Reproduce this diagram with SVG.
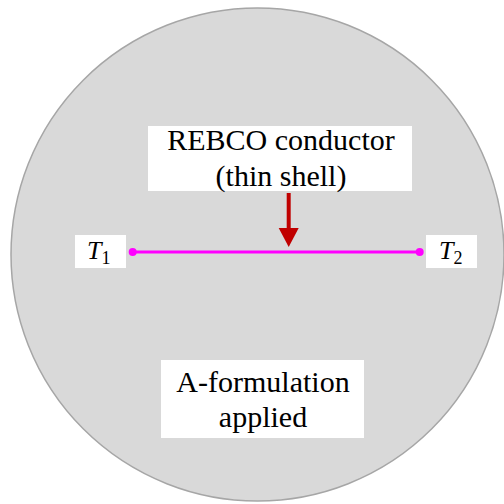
<svg xmlns="http://www.w3.org/2000/svg" width="504" height="504" viewBox="0 0 504 504">
<rect x="0" y="0" width="504" height="504" fill="#ffffff"/>
<g id="domain">
<circle cx="257.5" cy="254.5" r="246.5" fill="#d9d9d9" stroke="#a6a6a6" stroke-width="1.5"/>
</g>
<g id="connectors">
<line x1="132.7" y1="252" x2="419.7" y2="252" stroke="#ff00ff" stroke-width="3"/>
<circle cx="132.7" cy="252" r="4" fill="#ff00ff"/>
<circle cx="419.7" cy="252" r="4" fill="#ff00ff"/>
<line x1="288.7" y1="193" x2="288.7" y2="229" stroke="#c00000" stroke-width="4"/>
<path d="M278.7,228 L298.7,228 L288.7,247 Z" fill="#c00000"/>
</g>
<g id="rebco">
<rect fill="#ffffff" x="148" y="126" width="264" height="65"/>
<text font-family="Liberation Serif" x="281" y="150" font-size="30" text-anchor="middle">REBCO conductor</text>
<text font-family="Liberation Serif" x="281" y="185.5" font-size="30" text-anchor="middle">(thin shell)</text>
</g>
<g id="t1">
<rect fill="#ffffff" x="75" y="235" width="51" height="33"/>
<text font-family="Liberation Serif" x="87" y="259" font-size="26"><tspan font-style="italic">T</tspan><tspan font-size="18" dy="5">1</tspan></text>
</g>
<g id="t2">
<rect fill="#ffffff" x="426" y="235" width="51" height="33"/>
<text font-family="Liberation Serif" x="439" y="259" font-size="26"><tspan font-style="italic">T</tspan><tspan font-size="18" dy="5">2</tspan></text>
</g>
<g id="aform">
<rect fill="#ffffff" x="161" y="360" width="203" height="78"/>
<text font-family="Liberation Serif" x="263" y="392" font-size="30" text-anchor="middle">A-formulation</text>
<text font-family="Liberation Serif" x="263" y="427" font-size="30" text-anchor="middle">applied</text>
</g>
</svg>
